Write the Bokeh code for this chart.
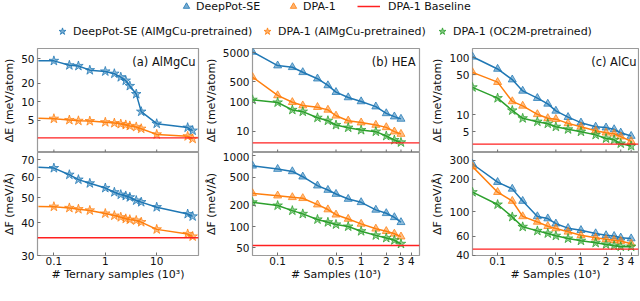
from bokeh.plotting import figure
from bokeh.layouts import column, row
from bokeh.models import (ColumnDataSource, CDSView, IndexFilter, FixedTicker, LinearScale,
                          NumeralTickFormatter, Span, Label, Legend, LegendItem, Range1d)
from bokeh.embed import file_html
from bokeh.resources import INLINE

# ---------------- data ----------------
# (a) AlMgCu  (first entry: line-only start value)
a_samples = [0.05, 0.1, 0.2, 0.3, 0.5, 1, 1.5, 2, 2.5, 3, 4, 5, 10, 40, 50]
a_dE_se_pre = [46, 46, 39, 38, 32.5, 31, 28.5, 25, 22, 18, 13.3, 6.9, 4.4, 3.8, 3.4]
a_dE_dpa_pre = [5.4, 5.3, 5.05, 4.9, 4.85, 4.65, 4.5, 4.35, 4.2, 4.05, 3.9, 3.65, 2.95, 2.75, 2.5]
a_dF_se_pre = [65.5, 65, 61.3, 58.7, 56.8, 54.5, 52.5, 51.4, 50.8, 50.2, 48.8, 48.1, 46, 43.3, 42.4]
a_dF_dpa_pre = [46.3, 46.2, 45.7, 45.2, 44.7, 43.5, 42.7, 42.1, 41.5, 41.2, 40.9, 40.3, 37.8, 36.3, 35.5]
a_base_E = 2.6
a_base_F = 35.1

# (b) HEA
b_samples = [0.05, 0.1, 0.15, 0.2, 0.3, 0.4, 0.5, 0.7, 1, 1.5, 2, 2.5, 3]
b_dE_se = [5260, 1780, 1560, 1050, 634, 372, 219, 144, 105, 70, 41, 31.8, 26.5]
b_dE_dpa = [722, 169, 99, 76, 67, 54, 34, 23, 19.8, 16.4, 13.6, 9.7, 8.05]
b_dE_oc2m = [120, 97, 54, 47, 29, 23, 16.4, 13.3, 11, 9.7, 6.9, 5.0, 4.15]
b_dF_se = [722, 649, 601, 506, 378, 328, 288, 245, 220, 172, 154, 135, 115]
b_dF_dpa = [295, 273, 259, 251, 204, 174, 147, 128, 109, 93, 86, 79, 72]
b_dF_oc2m = [220, 198, 168, 151, 126, 115, 107, 100, 86, 75, 69, 64, 57]
b_base_E = 4.0
b_base_F = 54

# (c) AlCu
c_samples = [0.05, 0.1, 0.15, 0.2, 0.3, 0.4, 0.5, 0.7, 1, 1.5, 2, 2.5, 3, 4]
c_dE_se = [103, 63, 41, 26, 19.4, 15.4, 11.6, 9.0, 7.2, 6.1, 5.9, 5.5, 4.8, 4.2]
c_dE_dpa = [55, 37, 17, 14.2, 10.1, 8.6, 8.3, 7.0, 6.1, 5.2, 4.8, 4.6, 4.1, 3.4]
c_dE_oc2m = [30, 19.4, 11.8, 8.6, 7.5, 6.9, 6.1, 5.5, 5.0, 4.4, 3.8, 3.6, 3.1, 2.8]
c_dF_se = [276, 188, 163, 126, 91, 87, 78, 71, 68, 63.5, 61, 60, 58, 57]
c_dF_dpa = [261, 152, 126, 91, 81, 74, 70.5, 65.7, 61, 58, 56, 55, 54, 51]
c_dF_oc2m = [152, 117, 90, 73, 67, 63.5, 60.4, 57, 54.4, 52, 50.3, 49, 48, 48]
c_base_E = 3.04
c_base_F = 45.6

# ticks
a_x_ticks = [0.1, 1, 10]
bc_x_ticks = [0.1, 0.5, 1, 2, 3, 4]
a_E_ticks = [5, 10, 20, 50]
a_F_ticks = [30, 40, 50, 60, 70]
b_E_ticks = [10, 100, 500, 5000]
b_F_ticks = [50, 100, 200, 500, 1000]
c_E_ticks = [5, 10, 50, 100]
c_F_ticks = [40, 60, 100, 200, 300]

# ---------------- style ----------------
FONT = "DejaVu Sans"
BLUE, ORANGE, GREEN, RED = "#1f77b4", "#ff7f0e", "#2ca02c", "#ff2020"
FRAME = "#9a9a9a"
TICK = "#707070"
TICK_LEN = 3

TOP_H, BOT_H = 106, 135
TOP_FRAME_H = TOP_H - 2


def style_axis(ax):
    ax.axis_line_color = None
    ax.major_tick_in = TICK_LEN
    ax.major_tick_out = 0
    ax.minor_tick_in = 0
    ax.minor_tick_out = 0
    ax.major_tick_line_color = TICK
    ax.major_label_text_font = FONT
    ax.major_label_text_font_size = "10.5px"
    ax.major_label_text_color = "#111111"
    ax.major_label_standoff = 3
    ax.axis_label_text_font = FONT
    ax.axis_label_text_font_size = "11px"
    ax.axis_label_text_font_style = "normal"
    ax.axis_label_text_color = "#111111"
    ax.axis_label_standoff = 2
    ax.formatter = NumeralTickFormatter(format="0.[0]")


def make_fig(xr, yr, xticks, yticks, ylabel, xlabel, width, left, right, is_top):
    p = figure(width=width, height=TOP_H if is_top else BOT_H,
               x_axis_type="log", y_axis_type="log",
               x_range=Range1d(*xr), y_range=Range1d(*yr),
               output_backend="svg", toolbar_location=None,
               min_border_left=left, min_border_right=right,
               min_border_top=2 if is_top else 0,
               min_border_bottom=0 if is_top else 32)
    p.grid.visible = False
    p.outline_line_color = FRAME
    p.outline_line_width = 1.2
    style_axis(p.xaxis[0])
    style_axis(p.yaxis[0])
    p.xaxis.ticker = FixedTicker(ticks=xticks, minor_ticks=[])
    p.yaxis.ticker = FixedTicker(ticks=yticks, minor_ticks=[])
    p.yaxis.axis_label = ylabel
    if is_top:
        # no tick labels on the shared bottom edge: draw only inward tick marks
        p.xaxis.visible = False
        p.extra_y_ranges = {"px": Range1d(0, TOP_FRAME_H)}
        p.extra_y_scales = {"px": LinearScale()}
        p.segment(x0=xticks, y0=0, x1=xticks, y1=TICK_LEN, y_range_name="px",
                  line_color=TICK, line_width=1)
    else:
        p.xaxis.axis_label = xlabel
        p.xaxis.major_label_standoff = 1
        p.xaxis.axis_label_standoff = 0
    return p


def add_series(p, src, ycol, color, marker, size, skip_first=False):
    p.line("x", ycol, source=src, line_color=color, line_width=1.5)
    kw = {}
    if skip_first:
        kw["view"] = CDSView(filter=IndexFilter(list(range(1, len(src.data["x"])))))
    p.scatter("x", ycol, source=src, marker=marker, size=size,
              fill_color=color, fill_alpha=0.5, line_color=color, line_alpha=0.75, **kw)


def add_base(p, level):
    p.add_layout(Span(location=level, dimension="width", line_color=RED, line_width=1.3))


def add_tag(p, text, xr, yr, dx):
    # anchored to the top-right corner of the plot frame
    p.add_layout(Label(x=xr[1], y=yr[1], x_offset=-dx, y_offset=-13,
                       text=text, text_align="right", text_baseline="middle",
                       text_font=FONT, text_font_size="11.5px", text_color="#111111"))


E_LABEL = "ΔE (meV/atom)"
F_LABEL = "ΔF (meV/Å)"

# widths / borders
A_W, A_L, A_R = 200, 31, 2
B_W, B_L, B_R = 221, 52, 2
C_W, C_L, C_R = 218, 51, 1

# ---- panel a ----
src_a = ColumnDataSource(dict(x=a_samples, e_se=a_dE_se_pre, e_dpa=a_dE_dpa_pre,
                              f_se=a_dF_se_pre, f_dpa=a_dF_dpa_pre))
a_xr = (0.048, 65)
a_yrE = (1.5, 73)
fa1 = make_fig(a_xr, a_yrE, a_x_ticks, a_E_ticks, E_LABEL, None, A_W, A_L, A_R, True)
add_base(fa1, a_base_E)
add_series(fa1, src_a, "e_se", BLUE, "star", 10, True)
add_series(fa1, src_a, "e_dpa", ORANGE, "star", 10, True)
add_tag(fa1, "(a) AlMgCu", a_xr, a_yrE, 3)

fa2 = make_fig(a_xr, (30, 74.6), a_x_ticks, a_F_ticks, F_LABEL, "# Ternary samples (10³)",
               A_W, A_L, A_R, False)
add_base(fa2, a_base_F)
add_series(fa2, src_a, "f_se", BLUE, "star", 10, True)
add_series(fa2, src_a, "f_dpa", ORANGE, "star", 10, True)

# ---- panel b ----
src_b = ColumnDataSource(dict(x=b_samples, e_se=b_dE_se, e_dpa=b_dE_dpa, e_oc=b_dE_oc2m,
                              f_se=b_dF_se, f_dpa=b_dF_dpa, f_oc=b_dF_oc2m))
b_xr = (0.05, 5.0)
b_yrE = (1.87, 6870)
fb1 = make_fig(b_xr, b_yrE, bc_x_ticks, b_E_ticks, E_LABEL, None, B_W, B_L, B_R, True)
add_base(fb1, b_base_E)
add_series(fb1, src_b, "e_se", BLUE, "triangle", 8)
add_series(fb1, src_b, "e_dpa", ORANGE, "triangle", 8)
add_series(fb1, src_b, "e_oc", GREEN, "star", 10)
add_tag(fb1, "(b) HEA", b_xr, b_yrE, 4)

fb2 = make_fig(b_xr, (39, 1112), bc_x_ticks, b_F_ticks, F_LABEL, "# Samples (10³)",
               B_W, B_L, B_R, False)
add_base(fb2, b_base_F)
add_series(fb2, src_b, "f_se", BLUE, "triangle", 8)
add_series(fb2, src_b, "f_dpa", ORANGE, "triangle", 8)
add_series(fb2, src_b, "f_oc", GREEN, "star", 10)

# ---- panel c ----
src_c = ColumnDataSource(dict(x=c_samples, e_se=c_dE_se, e_dpa=c_dE_dpa, e_oc=c_dE_oc2m,
                              f_se=c_dF_se, f_dpa=c_dF_dpa, f_oc=c_dF_oc2m))
c_xr = (0.05, 4.9)
c_yrE = (2.16, 144)
fc1 = make_fig(c_xr, c_yrE, bc_x_ticks, c_E_ticks, E_LABEL, None, C_W, C_L, C_R, True)
add_base(fc1, c_base_E)
add_series(fc1, src_c, "e_se", BLUE, "triangle", 8)
add_series(fc1, src_c, "e_dpa", ORANGE, "triangle", 8)
add_series(fc1, src_c, "e_oc", GREEN, "star", 10)
add_tag(fc1, "(c) AlCu", c_xr, c_yrE, 2)

fc2 = make_fig(c_xr, (39.8, 352), bc_x_ticks, c_F_ticks, F_LABEL, "# Samples (10³)",
               C_W, C_L, C_R, False)
add_base(fc2, c_base_F)
add_series(fc2, src_c, "f_se", BLUE, "triangle", 8)
add_series(fc2, src_c, "f_dpa", ORANGE, "triangle", 8)
add_series(fc2, src_c, "f_oc", GREEN, "star", 10)

# ---- legend strip ----
TOTAL_W = A_W + B_W + C_W
LEG_H = 46
leg = figure(width=TOTAL_W, height=LEG_H, output_backend="svg", toolbar_location=None,
             min_border=0, x_range=Range1d(0, 1), y_range=Range1d(0, 1))
leg.axis.visible = False
leg.grid.visible = False
leg.outline_line_color = None

NAN = float("nan")


def dummy(marker=None, color=None):
    if marker is None:
        return leg.line([NAN, NAN], [NAN, NAN], line_color=color, line_width=1.5)
    return leg.scatter([NAN], [NAN], marker=marker, fill_color=color, fill_alpha=0.6,
                       line_color=color, line_alpha=0.8)


leg_entries = [
    # label, renderer, x, y, glyph_w, glyph_h, standoff
    ("DeepPot-SE", dummy("triangle", BLUE), 178, 32, 16, 16, 2),
    ("DPA-1", dummy("triangle", ORANGE), 285, 32, 16, 16, 2),
    ("DPA-1 Baseline", dummy(None, RED), 357, 32, 23, 16, 8),
    ("DeepPot-SE (AlMgCu-pretrained)", dummy("star", BLUE), 53, 6, 18, 18, 2),
    ("DPA-1 (AlMgCu-pretrained)", dummy("star", ORANGE), 258, 6, 18, 18, 2),
    ("DPA-1 (OC2M-pretrained)", dummy("star", GREEN), 433, 6, 18, 18, 2),
]
for lab, rend, lx, ly, gw, gh, so in leg_entries:
    lg = Legend(items=[LegendItem(label=lab, renderers=[rend])], location=(lx, ly),
                orientation="horizontal", glyph_width=gw, glyph_height=gh,
                label_standoff=so, label_height=gh, padding=0, margin=0, spacing=0,
                border_line_color=None, background_fill_alpha=0,
                label_text_font=FONT, label_text_font_size="11px",
                label_text_color="#111111")
    leg.add_layout(lg)

root = column(leg, row(column(fa1, fa2), column(fb1, fb2), column(fc1, fc2)))

open("out.html", "w").write(file_html(root, INLINE))
